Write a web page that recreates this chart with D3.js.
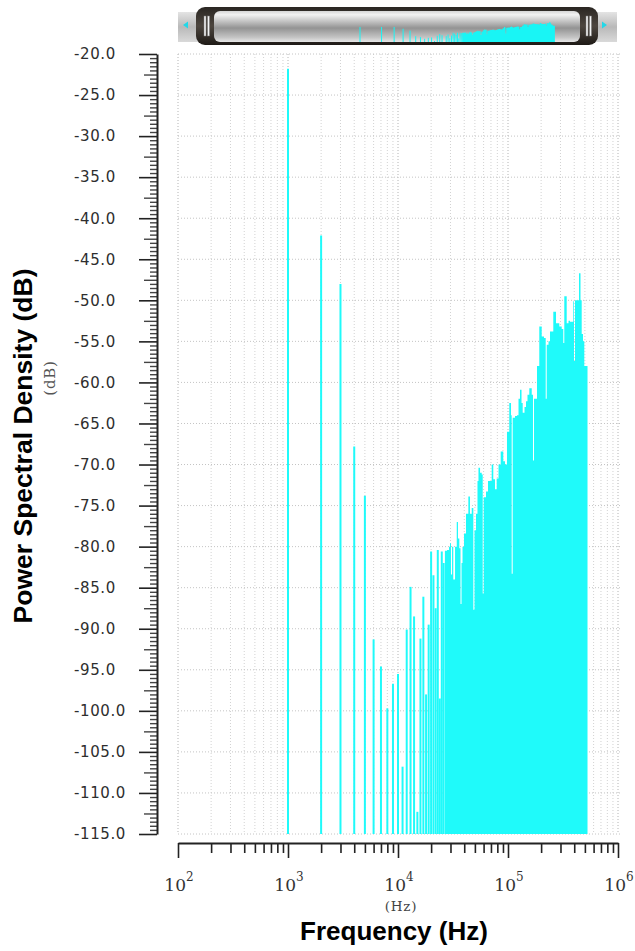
<!DOCTYPE html>
<html>
<head>
<meta charset="utf-8">
<script src="https://cdn.jsdelivr.net/npm/d3@7"></script>
<style>
  body { margin: 0; background: #fff; }
  svg { display: block; }
</style>
</head>
<body>
<div id="chart"></div>
<script>
var svgWidth = 635;
var svgHeight = 951;

// Discrete FFT bins below the noise band (kHz / dB)
var toneKHz = [1, 2, 3, 4, 5, 6, 7, 8, 9, 10, 11, 12, 13, 14, 15, 16, 17, 18, 19, 20, 21, 22, 23, 24, 25, 26];
var toneDb = [-21.8, -42.1, -48.0, -67.8, -73.8, -91.3, -94.6, -99.7, -96.7, -95.5, -106.8, -90.1, -84.9,
  -88.5, -112.3, -91.2, -86.1, -98.0, -89.5, -80.6, -83.5, -87.5, -80.4, -98.5, -80.6, -82.0];

var bandKHz = [26.7, 27.9, 29.1, 29.7, 30.3, 31.0, 31.8, 33.0, 34.2, 35.1, 36.1, 37.0, 37.8, 38.6, 39.8,
  41.5, 43.6, 45.1, 46.8, 48.4, 49.6, 51.2, 52.8, 53.9, 55.7, 57.7, 58.9, 60.1, 63.1, 65.8, 68.6, 71.1,
  73.5, 76.2, 78.9, 82.0, 85.8, 90.6, 93.9, 97.9, 102.7, 106.5, 108.0, 110.3, 115.8, 120.7, 124.6, 128.6,
  132.7, 136.0, 141.3, 145.8, 150.4, 156.2, 164.3, 168.8, 172.4, 177.8, 183.5, 192.5, 202.5, 212.5, 220.2,
  224.8, 233.5, 240.9, 258.1, 273.2, 292.7, 307.7, 318.1, 324.9, 341.7, 354.8, 366.1, 392.4, 398.1, 406.5,
  423.9, 442.2, 456.2, 467.7, 480.6, 493.9, 511.9, 528.2];
var bandDb = [-80.5, -80.4, -80.0, -79.6, -83.4, -80.0, -84.0, -80.0, -77.0, -79.0, -80.2, -87.0, -82.0, -80.0, -78.4,
  -76.0, -73.9, -76.0, -75.3, -87.7, -78.0, -76.0, -72.0, -70.4, -71.0, -71.2, -85.7, -74.0, -73.3, -72.0, -72.0, -70.0,
  -71.8, -73.0, -71.7, -70.0, -68.4, -69.6, -70.0, -66.0, -62.5, -64.0, -83.3, -64.3, -64.1, -64.0, -62.0, -60.9,
  -62.5, -63.7, -63.0, -62.3, -61.5, -60.7, -61.5, -69.5, -62.0, -62.0, -58.0, -53.2, -54.4, -54.6, -62.0,
  -55.4, -55.0, -53.8, -51.4, -52.8, -53.2, -53.5, -55.2, -49.5, -52.8, -52.5, -52.6, -50.1, -57.4, -50.0,
  -50.0, -46.7, -50.0, -54.1, -55.0, -58.0, -58.0, -58.0];

// Axis ticks
var yTickValues = [-20, -25, -30, -35, -40, -45, -50, -55, -60, -65, -70, -75, -80, -85, -90, -95, -100, -105, -110, -115];
var xDecades = [2, 3, 4, 5, 6];

var plot = { left: 178, right: 618, top: 54, bottom: 834 };
var cyan = "#1ffafa";

var svg = d3.select("#chart")
  .append("svg")
  .attr("width", svgWidth)
  .attr("height", svgHeight);

var defs = svg.append("defs");

// Scales
var xLogScale = d3.scaleLog()
  .domain([1e2, 1e6])
  .range([plot.left, plot.right]);

var yLinearScale = d3.scaleLinear()
  .domain([-115, -20])
  .range([plot.bottom, plot.top]);

var tones = toneKHz.map((f, i) => ({ f: f * 1000, db: toneDb[i] }));
var band = bandKHz.map((f, i) => ({ f: f * 1000, db: bandDb[i] }));

// Log positions 1..9 in each decade
var logTicks = [];
xDecades.forEach(function(d) {
  for (var k = 1; k < 10; k++) {
    var v = k * Math.pow(10, d);
    if (v <= 1e6) logTicks.push(v);
  }
});

// ---- grid ----
var grid = svg.append("g").attr("class", "grid");

grid.selectAll("line.vgrid")
  .data(logTicks)
  .enter().append("line")
  .attr("x1", d => xLogScale(d))
  .attr("x2", d => xLogScale(d))
  .attr("y1", plot.top)
  .attr("y2", plot.bottom)
  .attr("stroke", d => (Math.log10(d) % 1 === 0) ? "#b4b4b4" : "#d2d2d2")
  .attr("stroke-width", 1)
  .attr("stroke-dasharray", "1,2");

grid.selectAll("line.hgrid")
  .data(yTickValues)
  .enter().append("line")
  .attr("x1", plot.left)
  .attr("x2", plot.right + 4)
  .attr("y1", d => yLinearScale(d))
  .attr("y2", d => yLinearScale(d))
  .attr("stroke", "#c4c4c4")
  .attr("stroke-width", 1)
  .attr("stroke-dasharray", "1,2");

// ---- data ----
var bandArea = d3.area()
  .x(d => xLogScale(d.f))
  .y0(yLinearScale(-115))
  .y1(d => yLinearScale(d.db))
  .curve(d3.curveStepAfter);

svg.append("path")
  .datum(band)
  .attr("d", bandArea)
  .attr("fill", cyan);

svg.append("g").selectAll("line")
  .data(tones)
  .enter().append("line")
  .attr("x1", d => xLogScale(d.f))
  .attr("x2", d => xLogScale(d.f))
  .attr("y1", yLinearScale(-115))
  .attr("y2", d => yLinearScale(d.db))
  .attr("stroke", cyan)
  .attr("stroke-width", 2);

// ---- y axis ----
var yAxisX = 157;
var halfSteps = d3.range(-230, -39).map(d => d / 2).filter(d => d % 5 !== 0);

svg.append("g")
  .attr("transform", `translate(${yAxisX}, 0)`)
  .call(d3.axisLeft(yLinearScale).tickValues(halfSteps).tickSize(7).tickSizeOuter(0).tickFormat(""))
  .call(g => g.select(".domain").remove())
  .call(g => g.selectAll(".tick line")
    .attr("x2", d => (d % 2.5 === 0) ? -13 : -7)
    .attr("stroke", "#444")
    .attr("stroke-width", 1.4));

var yAxis = svg.append("g")
  .attr("transform", `translate(${yAxisX}, 0)`)
  .call(d3.axisLeft(yLinearScale).tickValues(yTickValues).tickSize(18).tickSizeOuter(0)
    .tickFormat(d => d.toFixed(1)));

yAxis.select(".domain").attr("stroke", "#222").attr("stroke-width", 2);
yAxis.selectAll(".tick line").attr("stroke", "#222").attr("stroke-width", 1.6);
yAxis.selectAll(".tick text")
  .attr("text-anchor", "start")
  .attr("x", 74 - yAxisX)
  .attr("fill", "#2e2e2e")
  .style("font-family", "DejaVu Sans, sans-serif")
  .style("font-size", "15px")
  .style("letter-spacing", "0.6px");

// ---- x axis ----
var xAxisY = 843;

svg.append("g")
  .attr("transform", `translate(0, ${xAxisY})`)
  .call(d3.axisBottom(xLogScale).tickValues(logTicks.filter(d => Math.log10(d) % 1 !== 0))
    .tickSize(10).tickSizeOuter(0).tickFormat(""))
  .call(g => g.select(".domain").remove())
  .call(g => g.selectAll(".tick line").attr("stroke", "#222").attr("stroke-width", 1.6));

var xAxis = svg.append("g")
  .attr("transform", `translate(0, ${xAxisY})`)
  .call(d3.axisBottom(xLogScale).tickValues(xDecades.map(d => Math.pow(10, d)))
    .tickSize(15).tickSizeOuter(0).tickFormat(""));

xAxis.select(".domain").attr("stroke", "#222").attr("stroke-width", 2);
xAxis.selectAll(".tick line").attr("stroke", "#222").attr("stroke-width", 1.6);

var xLabels = svg.append("g").selectAll("text")
  .data(xDecades)
  .enter().append("text")
  .attr("x", d => xLogScale(Math.pow(10, d)) + 1)
  .attr("y", 891)
  .attr("text-anchor", "middle")
  .attr("fill", "#333")
  .style("font-family", "DejaVu Serif, serif");

xLabels.append("tspan")
  .style("font-size", "17px")
  .text("10");

xLabels.append("tspan")
  .attr("dy", -10)
  .style("font-size", "12px")
  .text(d => d);

svg.append("text")
  .attr("x", xLogScale(1e4) + 3)
  .attr("y", 911)
  .attr("text-anchor", "middle")
  .attr("fill", "#444")
  .style("font-family", "DejaVu Serif, serif")
  .style("font-size", "13.5px")
  .style("letter-spacing", "0.8px")
  .text("(Hz)");

// ---- axis titles ----
svg.append("text")
  .attr("x", 394)
  .attr("y", 940)
  .attr("text-anchor", "middle")
  .attr("fill", "#000")
  .style("font-family", "Liberation Sans, Arial, sans-serif")
  .style("font-weight", "bold")
  .style("font-size", "26px")
  .text("Frequency (Hz)");

svg.append("text")
  .attr("transform", "translate(32, 446) rotate(-90)")
  .attr("text-anchor", "middle")
  .attr("fill", "#000")
  .style("font-family", "Liberation Sans, Arial, sans-serif")
  .style("font-weight", "bold")
  .style("font-size", "26.5px")
  .text("Power Spectral Density (dB)");

svg.append("text")
  .attr("transform", "translate(55, 378) rotate(-90)")
  .attr("text-anchor", "middle")
  .attr("fill", "#555")
  .style("font-family", "DejaVu Serif, serif")
  .style("font-size", "15px")
  .style("letter-spacing", "0.8px")
  .text("(dB)");

// ---- overview scroll bar ----
function vGradient(id, stops) {
  var g = defs.append("linearGradient").attr("id", id)
    .attr("x1", 0).attr("y1", 0).attr("x2", 0).attr("y2", 1);
  stops.forEach(s => g.append("stop").attr("offset", s[0]).attr("stop-color", s[1]));
}

vGradient("trackGrad", [[0, "#e4e4e4"], [0.5, "#b9b9b9"], [1, "#d9d9d9"]]);
vGradient("frameGrad", [[0, "#2a2622"], [0.5, "#4d463f"], [1, "#1e1a16"]]);
vGradient("thumbGrad", [[0, "#d6d6d6"], [0.12, "#f2f2f2"], [0.55, "#939393"], [0.85, "#c4c4c4"], [1, "#e6e6e6"]]);

var scroll = svg.append("g").attr("class", "scroll");

scroll.append("rect")
  .attr("x", 178).attr("y", 12).attr("width", 439).attr("height", 30)
  .attr("fill", "url(#trackGrad)");

scroll.append("path")
  .attr("d", "M183,25 L188,21.5 L188,28.5 Z")
  .attr("fill", "#22d8e8");
scroll.append("path")
  .attr("d", "M607,25 L602,21.5 L602,28.5 Z")
  .attr("fill", "#22d8e8");

scroll.append("rect")
  .attr("x", 196).attr("y", 7).attr("width", 402).attr("height", 38).attr("rx", 9)
  .attr("fill", "url(#frameGrad)");

scroll.append("rect")
  .attr("x", 214).attr("y", 11).attr("width", 366).attr("height", 31).attr("rx", 6)
  .attr("fill", "url(#thumbGrad)");

defs.append("clipPath").attr("id", "thumbClip")
  .append("rect")
  .attr("x", 214).attr("y", 11).attr("width", 366).attr("height", 31).attr("rx", 6);

// mini copy of the spectrum
var miniX = d3.scaleLog().domain([1e3, 5.3e5]).range([360, 555]);
var miniY = d3.scaleLinear().domain([-110, -40]).range([42, 20]).clamp(true);

var mini = scroll.append("g").attr("clip-path", "url(#thumbClip)");

mini.append("path")
  .datum(band)
  .attr("d", d3.area()
    .x(d => miniX(d.f))
    .y0(42)
    .y1(d => miniY(d.db))
    .curve(d3.curveStepAfter))
  .attr("fill", "#19f5f5");

mini.selectAll("line")
  .data(tones)
  .enter().append("line")
  .attr("x1", d => miniX(d.f))
  .attr("x2", d => miniX(d.f))
  .attr("y1", 42)
  .attr("y2", d => Math.max(miniY(d.db), 27))
  .attr("stroke", "#19f5f5")
  .attr("stroke-width", 1);

// grip handles
[204, 586].forEach(function(hx) {
  [0, 3.5].forEach(function(dx) {
    scroll.append("rect")
      .attr("x", hx + dx).attr("y", 16).attr("width", 2).attr("height", 20)
      .attr("fill", "#f4f4f4")
      .attr("stroke", "#777")
      .attr("stroke-width", 0.5);
  });
});
</script>
</body>
</html>
